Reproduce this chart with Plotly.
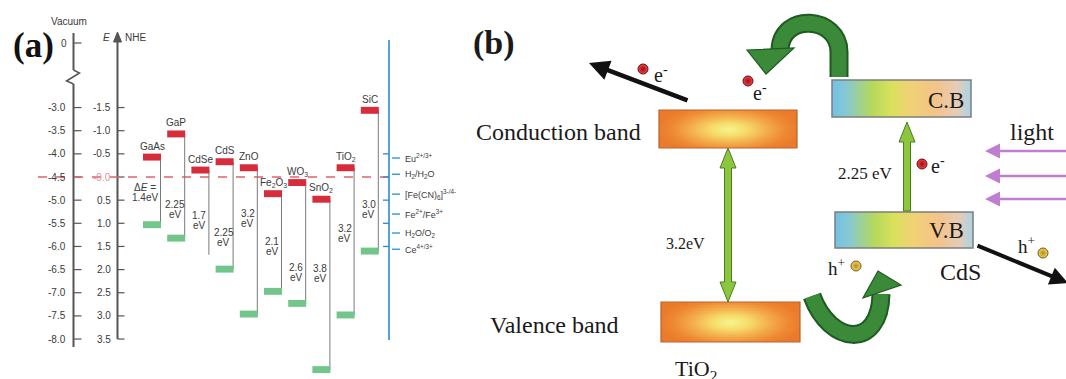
import numpy as np
import plotly.graph_objects as go

# ---------------- panel (a) data ----------------
materials = ["GaAs", "GaP", "CdSe", "CdS", "ZnO", "Fe<sub>2</sub>O<sub>3</sub>",
             "WO<sub>3</sub>", "SnO<sub>2</sub>", "TiO<sub>2</sub>", "SiC"]
cb_nhe = [-0.43, -0.93, -0.15, -0.33, -0.20, 0.36, 0.12, 0.48, -0.20, -1.44]
vb_nhe = [1.03, 1.32, 1.68, 1.99, 2.96, 2.47, 2.73, 4.16, 2.98, 1.60]
vb_marked = [True, True, False, True, True, True, True, True, True, True]
gap_line1 = ["Δ<i>E</i> =", "2.25", "1.7", "2.25", "3.2", "2.1", "2.6", "3.8", "3.2", "3.0"]
gap_line2 = ["1.4eV", "eV", "eV", "eV", "eV", "eV", "eV", "eV", "eV", "eV"]

nhe_ticks = [-1.5, -1.0, -0.5, 0.0, 0.5, 1.0, 1.5, 2.0, 2.5, 3.0, 3.5]
nhe_ticktext = ["-1.5", "-1.0", "-0.5", "-0.0", "0.5", "1.0", "1.5", "2.0", "2.5", "3.0", "3.5"]
vac_ticks = [-3.0, -3.5, -4.0, -4.5, -5.0, -5.5, -6.0, -6.5, -7.0, -7.5, -8.0]
vac_offset = -4.5  # E(vacuum) = -4.5 - E(NHE)

redox_names = ["Eu<sup>2+/3+</sup>", "H<sub>2</sub>/H<sub>2</sub>O",
               "[Fe(CN)<sub>6</sub>]<sup>3-/4-</sup>", "Fe<sup>2+</sup>/Fe<sup>3+</sup>",
               "H<sub>2</sub>O/O<sub>2</sub>", "Ce<sup>4+/3+</sup>"]
redox_nhe = [-0.41, -0.06, 0.37, 0.80, 1.21, 1.56]
scale_ticks = [-0.5, 0.0, 0.5, 1.0, 1.5]

# ---------------- panel (b) data ----------------
tio2_gap = "3.2eV"
cds_gap = "2.25 eV"

# ---------------- layout constants ----------------
W, H = 1066, 379
PX0, PXPER = 177.0, 46.3        # pixel of NHE 0, pixels per eV
y_top = -PX0 / PXPER
y_bot = (H - PX0) / PXPER
def e_of(px):
    return (px - PX0) / PXPER

col_x0, col_dx = 152.0, 24.2
bar_hw, bar_hh = 9.0, 0.075
gap_label_y = [0.33, 0.71, 0.93, 1.30, 0.89, 1.50, 2.06, 2.09, 1.23, 0.71]

SANS = "Liberation Sans"
SERIF = "Liberation Serif"
TXT_A = "#3a3a3a"

fig = go.Figure()
shapes = []
ann = []

# ---------- panel (a) axes ----------
VX, NX, BX = 73.5, 117.5, 389.0
shapes.append(dict(type="line", xref="x", yref="y", x0=VX, x1=VX, y0=e_of(33), y1=e_of(70),
                   line=dict(color="#555", width=2)))
shapes.append(dict(type="path", xref="x", yref="y",
                   path=f"M {VX},{e_of(70)} L {VX+6},{e_of(73)} L {VX-7},{e_of(81)} L {VX},{e_of(84)}",
                   line=dict(color="#555", width=1.5)))
shapes.append(dict(type="line", xref="x", yref="y", x0=VX, x1=VX, y0=e_of(84), y1=e_of(347),
                   line=dict(color="#555", width=2)))
shapes.append(dict(type="line", xref="x", yref="y", x0=VX, x1=VX + 8, y0=e_of(43), y1=e_of(43),
                   line=dict(color="#555", width=1.2)))
ann.append(dict(x=VX - 5, y=e_of(43), text="0", xanchor="right", showarrow=False,
                font=dict(family=SANS, size=10, color=TXT_A)))
ann.append(dict(x=69, y=e_of(21), text="Vacuum", xanchor="center", showarrow=False,
                font=dict(family=SANS, size=10, color=TXT_A)))
for v in vac_ticks:
    e = vac_offset - v
    shapes.append(dict(type="line", xref="x", yref="y", x0=VX, x1=VX + 8, y0=e, y1=e,
                       line=dict(color="#555", width=1.2)))
    ann.append(dict(x=VX - 6, y=e, text=f"{v:.1f}", xanchor="right", showarrow=False,
                    font=dict(family=SANS, size=10, color=TXT_A)))
shapes.append(dict(type="line", xref="x", yref="y", x0=NX, x1=NX, y0=e_of(38), y1=3.5,
                   line=dict(color="#555", width=2)))
shapes.append(dict(type="path", xref="x", yref="y",
                   path=f"M {NX-4},{e_of(42)} L {NX},{e_of(32)} L {NX+4},{e_of(42)} Z",
                   fillcolor="#555", line=dict(color="#555", width=1)))
ann.append(dict(x=NX - 11, y=e_of(37), text="<i>E</i>", showarrow=False,
                font=dict(family=SANS, size=10, color=TXT_A)))
ann.append(dict(x=NX + 5, y=e_of(37), text="NHE", xanchor="left", showarrow=False,
                font=dict(family=SANS, size=10, color=TXT_A)))
for v, t in zip(nhe_ticks, nhe_ticktext):
    shapes.append(dict(type="line", xref="x", yref="y", x0=NX, x1=NX + 7, y0=v, y1=v,
                       line=dict(color="#555", width=1.2)))
    ann.append(dict(x=NX - 5, y=v, text=t, xanchor="right", showarrow=False,
                    font=dict(family=SANS, size=10, color="#d9939a" if v == 0 else TXT_A)))

shapes.append(dict(type="line", xref="x", yref="y", x0=38, x1=BX, y0=0, y1=0,
                   line=dict(color="#e4606c", width=1.6, dash="dash"), layer="above"))

for i, (m, cb, vb, mk) in enumerate(zip(materials, cb_nhe, vb_nhe, vb_marked)):
    c = col_x0 + col_dx * i
    shapes.append(dict(type="line", xref="x", yref="y", x0=c + bar_hw - 0.5, x1=c + bar_hw - 0.5,
                       y0=cb, y1=vb, line=dict(color="#7a7a7a", width=1)))
    shapes.append(dict(type="rect", xref="x", yref="y", x0=c - bar_hw, x1=c + bar_hw,
                       y0=cb - bar_hh, y1=cb + bar_hh, fillcolor="#d62c3c", line=dict(width=0)))
    if mk:
        shapes.append(dict(type="rect", xref="x", yref="y", x0=c - bar_hw, x1=c + bar_hw,
                           y0=vb - bar_hh, y1=vb + bar_hh, fillcolor="#72c58b", line=dict(width=0)))
    ann.append(dict(x=c, y=cb, yshift=11, text=m, showarrow=False,
                    font=dict(family=SANS, size=10, color=TXT_A)))
    gx = c - 1 - (6 if i == 0 else 0)
    ann.append(dict(x=gx, y=gap_label_y[i], yshift=5, text=gap_line1[i], showarrow=False,
                    font=dict(family=SANS, size=10, color=TXT_A)))
    ann.append(dict(x=gx, y=gap_label_y[i], yshift=-5, text=gap_line2[i], showarrow=False,
                    font=dict(family=SANS, size=10, color=TXT_A)))

shapes.append(dict(type="line", xref="x", yref="y", x0=BX, x1=BX, y0=e_of(40), y1=e_of(340),
                   line=dict(color="#2a8ad4", width=1.6)))
for v in scale_ticks:
    shapes.append(dict(type="line", xref="x", yref="y", x0=BX - 6, x1=BX, y0=v, y1=v,
                       line=dict(color="#2a8ad4", width=1.3)))
for name, v in zip(redox_names, redox_nhe):
    shapes.append(dict(type="line", xref="x", yref="y", x0=BX + 3, x1=BX + 11, y0=v, y1=v,
                       line=dict(color="#2a8ad4", width=1.3)))
    ann.append(dict(x=BX + 14, y=v, text=name, xanchor="left", showarrow=False,
                    font=dict(family=SANS, size=9, color=TXT_A)))

ann.append(dict(x=33, y=e_of(45), text="<b>(a)</b>", showarrow=False,
                font=dict(family=SERIF, size=35, color="#111")))

# ---------------- panel (b) ----------------
def grid(x0, x1, n):
    d = (x1 - x0) / n
    return x0 + d / 2 + d * np.arange(n), d

def radial_box(x0, x1, y0, y1):
    xs, dx = grid(x0, x1, 92)
    ys, dy = grid(y0, y1, 26)
    X, Y = np.meshgrid(xs, ys)
    cx, cy = (x0 + x1) / 2, (y0 + y1) / 2
    z = np.sqrt(((X - cx) / ((x1 - x0) / 2)) ** 2 + 0.6 * ((Y - cy) / ((y1 - y0) / 2)) ** 2)
    z = np.clip(z / 1.05, 0, 1)
    fig.add_trace(go.Heatmap(x0=xs[0], dx=dx, y0=ys[0], dy=dy, z=z, xaxis="x", yaxis="y2",
                             zmin=0, zmax=1, zsmooth="best", showscale=False, hoverinfo="skip",
                             colorscale=[[0, "#f7f48f"], [0.25, "#f6dc6a"], [0.55, "#f3aa4a"],
                                         [0.8, "#ee8832"], [1, "#ea7a2c"]]))
    shapes.append(dict(type="rect", xref="x", yref="y2", x0=x0, x1=x1, y0=y0, y1=y1,
                       line=dict(color="#b8642c", width=1.2), layer="above"))

def linear_box(x0, x1, y0, y1):
    xs, dx = grid(x0, x1, 120)
    ys, dy = grid(y0, y1, 6)
    z = np.tile((xs - x0) / (x1 - x0), (len(ys), 1))
    fig.add_trace(go.Heatmap(x0=xs[0], dx=dx, y0=ys[0], dy=dy, z=z, xaxis="x", yaxis="y2",
                             zmin=0, zmax=1, zsmooth="best", showscale=False, hoverinfo="skip",
                             colorscale=[[0, "#72c0e6"], [0.1, "#86c9d2"], [0.28, "#b4d85c"],
                                         [0.42, "#d8e15c"], [0.55, "#f0d273"], [0.75, "#f4c38a"],
                                         [0.9, "#e4cdb8"], [1, "#a6d3ea"]]))
    shapes.append(dict(type="rect", xref="x", yref="y2", x0=x0, x1=x1, y0=y0, y1=y1,
                       line=dict(color="#7d7d7d", width=1.5), layer="above"))

radial_box(659, 797, 110, 148)   # TiO2 CB
radial_box(661, 800, 302, 342)   # TiO2 VB
linear_box(832, 971, 80, 117)    # CdS CB
linear_box(835, 973, 212, 248)   # CdS VB

def green_arrow_path(x, ytip_top, ytip_bot, double):
    hw, sw, hl = 8, 3.5, 20
    if double:
        pts = [(x, ytip_top), (x + hw, ytip_top + hl), (x + sw, ytip_top + hl),
               (x + sw, ytip_bot - hl), (x + hw, ytip_bot - hl), (x, ytip_bot),
               (x - hw, ytip_bot - hl), (x - sw, ytip_bot - hl), (x - sw, ytip_top + hl),
               (x - hw, ytip_top + hl)]
    else:
        pts = [(x, ytip_top), (x + hw, ytip_top + hl), (x + sw, ytip_top + hl),
               (x + sw, ytip_bot), (x - sw, ytip_bot), (x - sw, ytip_top + hl),
               (x - hw, ytip_top + hl)]
    return "M " + " L ".join(f"{a},{b}" for a, b in pts) + " Z"

shapes.append(dict(type="path", xref="x", yref="y2", path=green_arrow_path(728, 148, 302, True),
                   fillcolor="#8cc63e", line=dict(color="#4d7a26", width=1), layer="above"))
shapes.append(dict(type="path", xref="x", yref="y2", path=green_arrow_path(907, 122, 211, False),
                   fillcolor="#8cc63e", line=dict(color="#4d7a26", width=1), layer="above"))

top_body = "M 839,77 L 839,52 C 839,16 781,12 780,50"
bot_body = "M 812,296 C 830,345 880,350 881,294"
for body in (top_body, bot_body):
    shapes.append(dict(type="path", xref="x", yref="y2", path=body,
                       line=dict(color="#1f5a20", width=19), layer="above"))
    shapes.append(dict(type="path", xref="x", yref="y2", path=body,
                       line=dict(color="#3a8a3a", width=15), layer="above"))
shapes.append(dict(type="path", xref="x", yref="y2", path="M 747,50 L 794,48 L 766,74 Z",
                   fillcolor="#3a8a3a", line=dict(color="#1f5a20", width=1.2), layer="above"))
shapes.append(dict(type="path", xref="x", yref="y2", path="M 863,298 L 901,285 L 878,271 Z",
                   fillcolor="#3a8a3a", line=dict(color="#1f5a20", width=1.2), layer="above"))

ann.append(dict(x=589, y=63, ax=689, ay=101, xref="x", yref="y2", axref="x", ayref="y2",
                text="", showarrow=True, arrowhead=2, arrowwidth=4.5, arrowsize=0.9,
                arrowcolor="#111"))
ann.append(dict(x=1068, y=283, ax=976, ay=245, xref="x", yref="y2", axref="x", ayref="y2",
                text="", showarrow=True, arrowhead=2, arrowwidth=4, arrowsize=0.9,
                arrowcolor="#111"))
for yy in (151, 176, 199):
    ann.append(dict(x=985, y=yy, ax=1075, ay=yy, xref="x", yref="y2", axref="x", ayref="y2",
                    text="", showarrow=True, arrowhead=2, arrowwidth=2.5, arrowsize=1.2,
                    arrowcolor="#c17dd2"))

fig.add_trace(go.Scatter(x=[643, 748, 922], y=[69, 81, 164], xaxis="x", yaxis="y2", mode="markers",
                         hoverinfo="skip", showlegend=False,
                         marker=dict(size=10, color="#f04848", gradient=dict(type="radial", color="#a00818"),
                                     line=dict(color="#6a0a10", width=1))))
fig.add_trace(go.Scatter(x=[856, 1043], y=[266, 253], xaxis="x", yaxis="y2", mode="markers",
                         hoverinfo="skip", showlegend=False,
                         marker=dict(size=10, color="#f2d669", gradient=dict(type="radial", color="#b88a14"),
                                     line=dict(color="#6f5a1a", width=1))))

def tb(x, y, text, size, bold=False, xanchor="center"):
    ann.append(dict(x=x, y=y, xref="x", yref="y2", text=f"<b>{text}</b>" if bold else text,
                    showarrow=False, xanchor=xanchor,
                    font=dict(family=SERIF, size=size, color="#1a1a1a")))

tb(494, 43, "(b)", 34, bold=True)
tb(558, 132, "Conduction band", 24)
tb(554, 325, "Valence band", 24)
tb(696, 370, "TiO<sub>2</sub>", 22)
tb(685, 243, tio2_gap, 16)
tb(865, 173, cds_gap, 17)
tb(946, 100, "C.B", 23)
tb(946, 230, "V.B", 23)
tb(1032, 132, "light", 24)
tb(960, 272, "CdS", 24)
tb(836, 267, "h<sup>+</sup>", 19)
tb(1026, 245, "h<sup>+</sup>", 19)
tb(661, 74, "e<sup>-</sup>", 20)
tb(760, 92, "e<sup>-</sup>", 20)
tb(938, 165, "e<sup>-</sup>", 20)

fig.update_layout(
    width=W, height=H, margin=dict(l=0, r=0, t=0, b=0),
    paper_bgcolor="white", plot_bgcolor="white", showlegend=False,
    xaxis=dict(range=[0, W], domain=[0, 1], visible=False, fixedrange=True),
    yaxis=dict(range=[y_bot, y_top], domain=[0, 1], visible=False, fixedrange=True),
    yaxis2=dict(range=[H, 0], overlaying="y", visible=False, fixedrange=True),
    shapes=shapes, annotations=ann,
)

fig.write_html("out.html", config={"displayModeBar": False},
               post_script="document.body.style.margin='0';document.body.style.overflow='hidden';")
